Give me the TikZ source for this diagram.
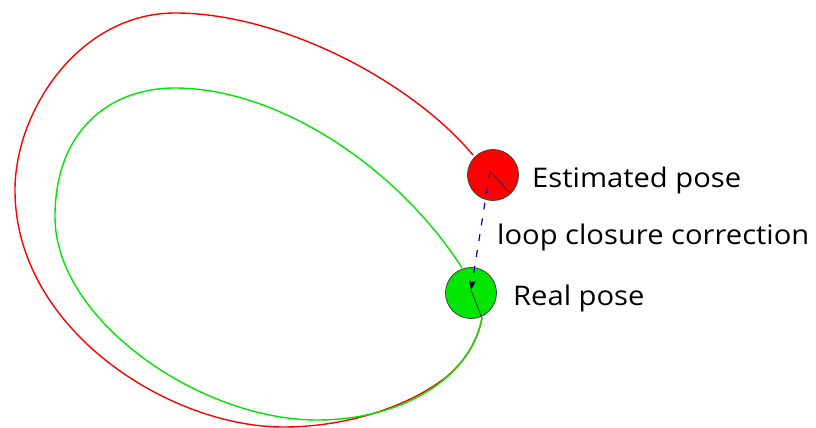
\documentclass[tikz,border=0pt]{standalone}
\usepackage{fontspec}
\setmainfont{Open Sans}[FakeStretch=1.08]
\usetikzlibrary{arrows.meta}
\definecolor{estred}{RGB}{255,0,0}
\definecolor{realgreen}{RGB}{0,230,0}
\begin{document}
\begin{tikzpicture}[x=1pt,y=-1pt,
  pose/.style={circle,draw=black!75,line width=0.8pt,minimum size=51pt,inner sep=0pt},
  lbl/.style={anchor=base west,inner sep=0pt,font=\fontsize{27}{30}\selectfont},
  traj/.style={line width=1.4pt}]
\useasboundingbox (0,0) rectangle (816,428);
\coordinate (ec) at (490,171);
\coordinate (eh) at (510,193);
\coordinate (rc) at (471,290);
\coordinate (rh) at (482,318);
\coordinate (redend) at (473,155);
\coordinate (greenend) at (462,268);
% red (estimated) trajectory
\draw[traj,estred] (rh) .. controls (478,340) and (465,362) .. (445,378)
  .. controls (410,405) and (350,427) .. (283,427)
  .. controls (170,427) and (15,330) .. (15,190)
  .. controls (15,110) and (80,13) .. (175,13)
  .. controls (280,13) and (410,80) .. (redend);
% green (real) trajectory
\draw[traj,realgreen] (rh) .. controls (470,380) and (400,420) .. (317,420)
  .. controls (200,420) and (55,320) .. (55,217)
  .. controls (55,130) and (110,88) .. (175,88)
  .. controls (280,88) and (400,170) .. (greenend);
% poses
\node[pose,fill=estred] (est) at (493,175) {};
\node[pose,fill=realgreen] (real) at (471,293) {};
\draw[black!80,line width=0.8pt] (ec) -- (eh);
\draw[black!80,line width=0.8pt] (rc) -- (rh);
\draw[blue!80!black,line width=1.2pt,dash pattern=on 7pt off 9pt,-{Stealth[length=10pt,width=7pt,color=black]}] (ec) -- (rc);
% labels
\node[lbl] (t1) at (532,187) {Estimated pose};
\node[lbl] (t2) at (497,244) {loop closure correction};
\node[lbl] (t3) at (513,305) {Real pose};
\end{tikzpicture}
\end{document}
